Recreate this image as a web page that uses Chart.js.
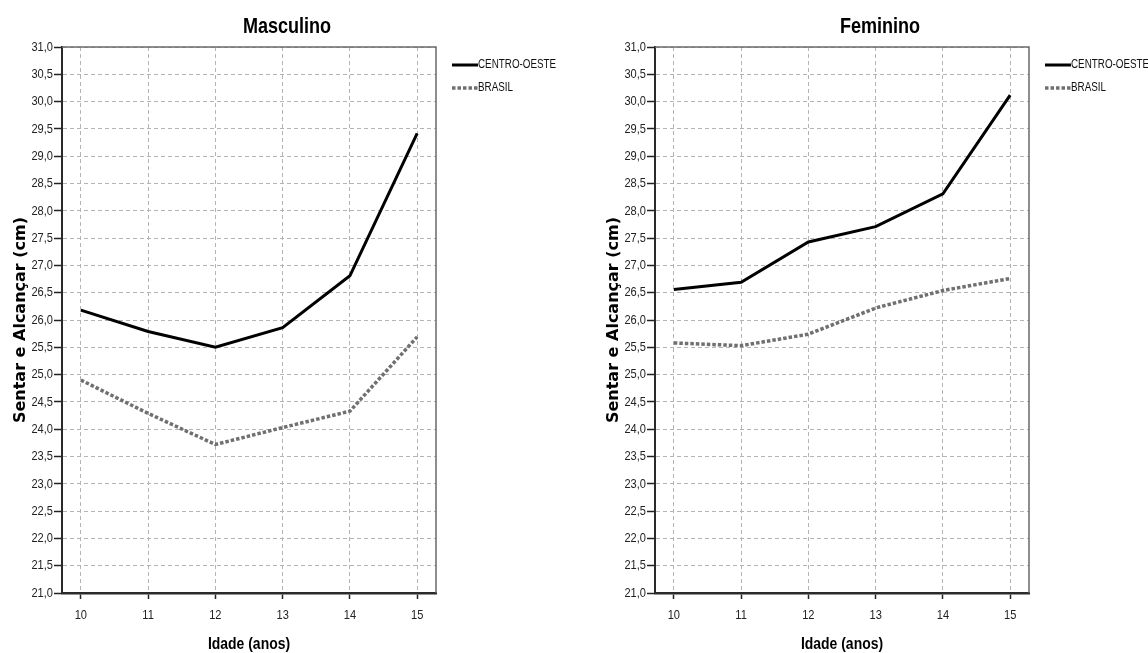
<!DOCTYPE html>
<html lang="pt">
<head>
<meta charset="utf-8">
<title>Sentar e Alcançar por idade</title>
<script src="https://cdn.jsdelivr.net/npm/chart.js@4.4.1/dist/chart.umd.min.js"></script>
<style>
  html, body { margin: 0; padding: 0; background: #fff; overflow: hidden; }
  #wrap { position: relative; width: 1148px; height: 653px; overflow: hidden; }
  canvas { position: absolute; top: 0; }
  #cMasc { left: 0; }
  #cFem { left: 593px; }
</style>
</head>
<body>
<div id="wrap">
  <canvas id="cMasc" width="574" height="653"></canvas>
  <canvas id="cFem" width="574" height="653"></canvas>
</div>
<script>
// Idades (anos)
const ages = [10, 11, 12, 13, 14, 15];
const seriesNames = ['CENTRO-OESTE', 'BRASIL'];

// Sentar e Alcançar (cm) — Masculino
const mascCentroOeste = [26.18, 25.79, 25.50, 25.86, 26.81, 29.42];
const mascBrasil      = [24.90, 24.29, 23.72, 24.03, 24.33, 25.69];

// Sentar e Alcançar (cm) — Feminino
const femCentroOeste = [26.56, 26.69, 27.43, 27.71, 28.31, 30.12];
const femBrasil      = [25.58, 25.53, 25.74, 26.22, 26.54, 26.76];

// Eixo Y
const yMin = 21, yMax = 31, yStep = 0.5;

const xTitle = 'Idade (anos)';
const yTitle = 'Sentar e Alcançar (cm)';

const SANS = "'Liberation Sans', Arial, sans-serif";
const WIDE = "'DejaVu Sans', Verdana, sans-serif";
const NARROW_X = 0.82; // compressão horizontal (estilo "narrow")

// Texto condensado: escala horizontal aplicada só ao texto
function narrowText(ctx, text, x, y, font, align, baseline, color) {
  ctx.save();
  ctx.font = font;
  ctx.fillStyle = color || '#111';
  ctx.textAlign = align;
  ctx.textBaseline = baseline;
  ctx.translate(x, y);
  ctx.scale(NARROW_X, 1);
  ctx.fillText(text, 0, 0);
  ctx.restore();
}

// Moldura superior/direita da área do gráfico
const framePlugin = {
  id: 'frame',
  beforeDatasetsDraw(chart) {
    const { ctx, chartArea: a } = chart;
    ctx.save();
    ctx.strokeStyle = '#6a6a6a';
    ctx.lineWidth = 1.5;
    ctx.beginPath();
    ctx.moveTo(a.left, a.top);
    ctx.lineTo(a.right, a.top);
    ctx.lineTo(a.right, a.bottom);
    ctx.stroke();
    ctx.restore();
  }
};

// Título, rótulos dos eixos e título do eixo X em fonte condensada
const narrowLabels = {
  id: 'narrowLabels',
  afterDraw(chart, args, opts) {
    const { ctx, chartArea: a, scales } = chart;
    // título do painel
    narrowText(ctx, opts.title, chart.width / 2, 27, 'bold 22px ' + SANS, 'center', 'middle', '#000');
    // rótulos do eixo X
    scales.x.ticks.forEach(t => {
      narrowText(ctx, t.label, scales.x.getPixelForValue(t.value), a.bottom + 22,
        '13.5px ' + SANS, 'center', 'middle', '#222');
    });
    // rótulos do eixo Y
    scales.y.ticks.forEach(t => {
      narrowText(ctx, t.label, a.left - 9, scales.y.getPixelForValue(t.value),
        '13.5px ' + SANS, 'right', 'middle', '#222');
    });
    // título do eixo X
    narrowText(ctx, xTitle, (a.left + a.right) / 2, a.bottom + 51,
      'bold 17px ' + SANS, 'center', 'middle', '#000');
  }
};

// Legenda à direita, no topo
const sideLegend = {
  id: 'sideLegend',
  afterDraw(chart) {
    const { ctx, chartArea: a } = chart;
    const x0 = a.right + 16;
    const rows = [a.top + 18, a.top + 41];
    chart.data.datasets.forEach((ds, i) => {
      const y = rows[i];
      ctx.save();
      ctx.setLineDash(ds.borderDash || []);
      ctx.strokeStyle = ds.borderColor;
      ctx.lineWidth = ds.borderWidth;
      ctx.beginPath();
      ctx.moveTo(x0, y);
      ctx.lineTo(x0 + 26, y);
      ctx.stroke();
      ctx.restore();
      narrowText(ctx, ds.label, x0 + 26, y, '12px ' + SANS, 'left', 'middle', '#111');
    });
  }
};

function toPoints(values) {
  return ages.map((a, i) => ({ x: a, y: values[i] }));
}

function makeChart(id, title, coValues, brValues) {
  return new Chart(document.getElementById(id), {
    type: 'line',
    data: {
      datasets: [
        {
          label: seriesNames[0],
          data: toPoints(coValues),
          borderColor: '#000',
          borderWidth: 3,
          pointRadius: 0,
          tension: 0,
          fill: false
        },
        {
          label: seriesNames[1],
          data: toPoints(brValues),
          borderColor: '#707070',
          borderWidth: 3.5,
          borderDash: [3.5, 2],
          pointRadius: 0,
          tension: 0,
          fill: false
        }
      ]
    },
    options: {
      responsive: false,
      animation: false,
      events: [],
      layout: { padding: { top: 47, left: 0, right: 0, bottom: 0 } },
      plugins: {
        legend: { display: false },
        tooltip: { enabled: false },
        title: { display: false },
        narrowLabels: { title: title }
      },
      scales: {
        x: {
          type: 'linear',
          position: 'bottom',
          min: 9.72,
          max: 15.28,
          afterBuildTicks: s => { s.ticks = ages.map(v => ({ value: v })); },
          afterFit: s => { s.height = 60; },
          ticks: { display: false, callback: v => String(v) },
          grid: {
            color: '#b4b4b4',
            lineWidth: 1,
            tickLength: 6,
            tickColor: '#222',
            tickWidth: 1.5,
            tickBorderDash: []
          },
          border: { display: true, color: '#2a2a2a', width: 2.5, dash: [4, 3] }
        },
        y: {
          type: 'linear',
          position: 'left',
          min: yMin,
          max: yMax,
          afterFit: s => { s.width = 62; },
          ticks: {
            display: false,
            stepSize: yStep,
            callback: v => v.toFixed(1).replace('.', ',')
          },
          grid: {
            color: '#b4b4b4',
            lineWidth: 1,
            tickLength: 8,
            tickColor: '#222',
            tickWidth: 1.5,
            tickBorderDash: []
          },
          border: { display: true, color: '#2a2a2a', width: 2, dash: [4, 3] },
          title: {
            display: true,
            text: yTitle,
            color: '#000',
            font: { family: WIDE, size: 16, weight: 'bold', lineHeight: 1.2 },
            padding: { top: 11, bottom: 0 }
          }
        },
        // espaço reservado à direita para a legenda
        legendSpace: {
          type: 'linear',
          position: 'right',
          display: true,
          afterFit: s => { s.width = 138; },
          ticks: { display: false },
          grid: { display: false, drawOnChartArea: false, drawTicks: false },
          border: { display: false }
        }
      }
    },
    plugins: [framePlugin, narrowLabels, sideLegend]
  });
}

makeChart('cMasc', 'Masculino', mascCentroOeste, mascBrasil);
makeChart('cFem', 'Feminino', femCentroOeste, femBrasil);
</script>
</body>
</html>
